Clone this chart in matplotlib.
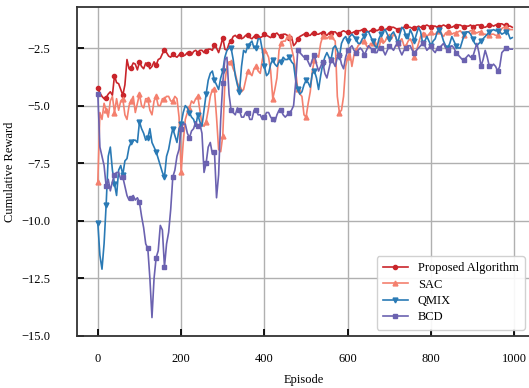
import numpy as np
import matplotlib
matplotlib.use('Agg')
import matplotlib.pyplot as plt

plt.rcParams['font.family'] = ['Liberation Serif', 'DejaVu Serif']
plt.rcParams['font.size'] = 9

episodes = np.arange(0, 1000, 5)

proposed = [-4.25, -4.45, -4.6, -4.7, -4.65, -4.5, -4.4, -4.55, -3.7, -4.0,
            -4.05, -4.3, -4.55, -4.1, -3.0, -3.4, -3.35, -3.15, -3.2, -3.45,
            -3.1, -3.3, -3.4, -3.15, -3.2, -3.4, -3.3, -3.1, -3.25, -3.0,
            -2.95, -2.75, -2.6, -2.7, -2.85, -2.9, -2.75, -2.85, -2.9, -2.8,
            -2.75, -2.85, -2.8, -2.7, -2.7, -2.8, -2.65, -2.6, -2.7, -2.6,
            -2.6, -2.7, -2.65, -2.55, -2.55, -2.6, -2.35, -2.5, -2.7, -2.4,
            -2.05, -2.55, -2.6, -2.3, -2.2, -2.0, -1.95, -2.05, -2.0, -2.1,
            -2.05, -1.95, -1.95, -2.05, -2.1, -2.0, -2.0, -1.95, -2.05, -2.0,
            -1.9, -1.95, -2.0, -2.05, -1.95, -1.9, -1.85, -1.95, -2.0, -1.9,
            -1.9, -1.95, -2.05, -2.0, -2.4, -2.3, -2.1, -2.0, -1.95, -1.9,
            -1.9, -1.95, -1.95, -1.85, -1.85, -1.9, -1.9, -1.85, -1.85, -1.9,
            -1.95, -1.85, -1.85, -1.8, -1.8, -1.9, -1.9, -1.8, -1.75, -1.8,
            -1.8, -1.85, -1.85, -1.8, -1.8, -1.75, -1.75, -1.7, -1.7, -1.75,
            -1.8, -1.75, -1.7, -1.7, -1.75, -1.7, -1.65, -1.7, -1.7, -1.65,
            -1.65, -1.6, -1.6, -1.65, -1.7, -1.65, -1.65, -1.6, -1.55, -1.6,
            -1.6, -1.65, -1.65, -1.6, -1.55, -1.6, -1.6, -1.55, -1.5, -1.55,
            -1.6, -1.55, -1.55, -1.6, -1.6, -1.55, -1.5, -1.55, -1.55, -1.6,
            -1.6, -1.55, -1.55, -1.5, -1.5, -1.55, -1.6, -1.55, -1.55, -1.5,
            -1.6, -1.55, -1.5, -1.5, -1.55, -1.6, -1.6, -1.55, -1.5, -1.5,
            -1.55, -1.5, -1.5, -1.45, -1.45, -1.5, -1.5, -1.55, -1.55, -1.6]

sac = [-8.3, -5.3, -5.6, -4.9, -5.2, -5.5, -4.8, -4.6, -5.3, -4.7,
       -5.2, -4.8, -4.7, -5.4, -5.6, -5.0, -4.8, -4.6, -5.3, -4.9,
       -4.5, -5.0, -5.1, -4.7, -4.7, -5.2, -5.4, -4.8, -4.6, -5.0,
       -5.0, -4.7, -4.7, -4.6, -4.6, -4.8, -4.8, -4.6, -4.7, -5.5,
       -7.9, -6.6, -5.6, -5.3, -5.1, -4.8, -4.9, -4.7, -4.6, -5.2,
       -5.8, -5.9, -5.7, -5.2, -4.6, -4.3, -4.3, -5.5, -6.9, -7.0,
       -6.3, -4.0, -3.3, -3.1, -3.1, -3.4, -3.6, -4.0, -4.2, -4.4,
       -4.3, -3.9, -3.5, -3.6, -3.7, -3.4, -3.3, -3.5, -3.6, -3.0,
       -2.6, -2.7, -2.9, -3.5, -4.7, -4.3, -3.8, -2.6, -2.3, -2.2,
       -2.2, -2.0, -2.0, -2.5, -2.9, -3.5, -4.3, -4.5, -4.6, -5.4,
       -5.5, -4.9, -4.4, -3.5, -3.0, -2.8, -2.9, -2.3, -2.0, -1.95,
       -2.1, -2.0, -2.0, -2.1, -2.2, -4.6, -5.3, -5.2, -4.6, -3.3,
       -2.9, -2.7, -3.3, -2.8, -2.6, -2.4, -2.3, -2.2, -2.2, -2.4,
       -2.5, -2.3, -2.3, -2.2, -2.4, -2.5, -2.1, -2.3, -2.2, -2.0,
       -2.0, -2.1, -1.9, -2.0, -2.3, -2.2, -2.1, -2.4, -2.4, -2.2,
       -2.1, -2.3, -2.9, -2.6, -2.3, -2.0, -1.9, -1.85, -2.0, -1.9,
       -1.8, -1.9, -1.9, -1.8, -1.75, -1.9, -2.0, -1.85, -1.8, -1.75,
       -1.9, -1.85, -1.85, -1.8, -1.75, -1.85, -1.95, -1.8, -1.8, -1.75,
       -1.75, -1.8, -1.85, -1.8, -1.8, -1.9, -1.9, -1.95, -1.95, -1.9,
       -1.9, -1.95, -1.95, -1.8, -1.65, -1.6, -1.6, -1.65, -1.7, -1.7]

qmix = [-10.1, -11.5, -12.1, -11.0, -9.3, -7.2, -6.8, -7.8, -8.4, -8.9,
        -7.8, -7.6, -8.0, -7.4, -7.3, -6.8, -6.6, -6.5, -6.5, -6.6,
        -5.7, -6.0, -6.2, -6.5, -6.4, -6.0, -6.6, -6.8, -7.0, -7.3,
        -7.6, -7.9, -8.1, -7.2, -6.9, -6.4, -6.0, -6.3, -6.6, -6.0,
        -5.8, -5.3, -5.0, -5.1, -5.3, -5.5, -5.6, -5.9, -5.4, -5.7,
        -5.9, -5.2, -4.5, -3.9, -3.6, -3.5, -3.9, -4.1, -4.3, -3.8,
        -3.5, -2.9, -2.6, -2.5, -2.5, -3.0, -3.7, -4.1, -4.4, -3.3,
        -2.6, -2.7, -2.4, -2.3, -2.2, -2.5, -2.5, -2.1, -2.1, -2.6,
        -3.3, -3.7, -3.6, -3.2, -3.0, -3.2, -3.3, -3.1, -3.1, -2.9,
        -3.0, -3.0, -2.9, -3.1, -3.2, -3.9, -4.3, -4.5, -4.4, -4.1,
        -3.9, -4.0, -4.2, -3.6, -3.5, -3.8, -4.3, -3.7, -3.2, -2.9,
        -2.7, -2.9, -3.0, -2.5, -2.4, -2.6, -2.9, -2.3, -2.1, -2.0,
        -2.2, -2.0, -1.9, -2.0, -2.1, -2.3, -2.3, -2.1, -2.0, -1.8,
        -1.8, -2.0, -2.2, -2.4, -2.5, -2.1, -1.9, -1.8, -1.7, -1.9,
        -2.1, -1.9, -1.8, -2.0, -2.3, -1.9, -1.6, -1.7, -2.0, -2.1,
        -1.7, -1.9, -2.2, -1.9, -1.6, -1.8, -2.3, -2.2, -2.0, -2.2,
        -2.4, -2.2, -2.1, -1.8, -1.7, -1.9, -2.2, -2.4, -2.5, -2.3,
        -2.0, -2.2, -2.4, -2.5, -2.5, -2.2, -1.9, -1.8, -1.8, -1.9,
        -2.1, -2.3, -2.4, -2.3, -2.2, -2.1, -2.0, -1.9, -1.8, -1.75,
        -1.7, -1.75, -1.75, -1.8, -1.9, -1.85, -1.8, -1.85, -2.1, -2.05]

bcd = [-4.5, -6.8, -7.2, -7.6, -8.5, -8.2, -8.7, -8.3, -8.0, -7.9,
       -7.9, -8.2, -8.1, -8.5, -8.9, -9.1, -9.0, -8.9, -9.1, -9.0,
       -9.2, -9.8, -10.3, -11.0, -11.2, -12.5, -14.2, -12.5, -11.6, -11.3,
       -10.2, -10.4, -12.0, -11.0, -10.5, -9.5, -8.1, -7.8, -7.2, -6.9,
       -6.0, -5.8, -5.8, -6.2, -6.4, -6.1, -6.0, -5.7, -5.9, -5.8,
       -6.2, -7.9, -7.5, -6.8, -6.6, -7.1, -7.0, -9.0, -8.0, -5.6,
       -4.0, -3.0, -2.9, -4.5, -5.2, -5.3, -5.4, -5.1, -5.2, -5.5,
       -5.5, -5.3, -5.3, -5.6, -5.6, -5.2, -5.2, -5.4, -5.4, -5.6,
       -5.5, -5.3, -5.3, -5.5, -5.6, -5.7, -5.4, -5.2, -5.2, -5.4,
       -5.5, -5.4, -5.3, -5.2, -5.0, -4.0, -2.6, -2.7, -2.8, -2.9,
       -2.9, -3.1, -3.3, -3.0, -2.8, -3.2, -3.5, -3.3, -3.1, -3.6,
       -3.8, -3.4, -3.0, -3.1, -3.3, -2.9, -2.8, -3.2, -3.4, -2.9,
       -2.6, -2.5, -2.4, -2.6, -2.7, -2.6, -2.5, -2.6, -2.8, -2.6,
       -2.4, -2.5, -2.6, -2.7, -2.7, -2.5, -2.5, -2.6, -2.8, -2.6,
       -2.4, -2.5, -2.6, -2.4, -2.3, -2.6, -2.8, -2.6, -2.5, -2.4,
       -2.4, -2.6, -2.7, -2.6, -2.5, -2.4, -2.3, -2.4, -2.6, -2.5,
       -2.4, -2.6, -2.7, -2.5, -2.5, -2.4, -2.3, -2.5, -2.6, -2.5,
       -2.4, -2.5, -2.7, -2.8, -2.9, -3.0, -3.0, -2.9, -2.8, -2.9,
       -2.9, -2.6, -2.3, -2.7, -3.3, -3.0, -2.6, -2.9, -3.3, -3.3,
       -3.2, -3.3, -3.5, -3.3, -2.7, -2.6, -2.5, -2.5, -2.55, -2.55]

fig = plt.figure(figsize=(5.29, 3.88), dpi=100)
ax = fig.add_axes([77/529, 52/388, 454/529, 329/388])

ax.plot(episodes, proposed, color='#c9252b', marker='o', markersize=3, markevery=4, lw=1.2, label='Proposed Algorithm')
ax.plot(episodes, sac, color='#f4806e', marker='^', markersize=3.5, markevery=4, lw=1.2, label='SAC')
ax.plot(episodes, qmix, color='#2a7ab5', marker='v', markersize=3.5, markevery=4, lw=1.2, label='QMIX')
ax.plot(episodes, bcd, color='#6b62b0', marker='s', markersize=3, markevery=4, lw=1.2, label='BCD')

ax.set_xlim(-50, 1040)
ax.set_ylim(-15, -0.72)
ax.set_xticks([0, 200, 400, 600, 800, 1000])
ax.set_yticks([-15, -12.5, -10, -7.5, -5, -2.5])
ax.grid(True, color='#b0b0b0', lw=1)
ax.tick_params(direction='in', length=5, width=1.3, top=False, right=False)
ax.tick_params(axis='x', pad=12)
ax.tick_params(axis='y', pad=19)
for s in ax.spines.values():
    s.set_linewidth(1.3)
    s.set_color('#333333')

ax.set_xlabel('Episode', labelpad=7)
ax.set_ylabel('Cumulative Reward', labelpad=4)
ax.legend(loc='lower right', fontsize=9, framealpha=0.9, edgecolor='#cccccc',
          handlelength=2.0, borderpad=0.5, labelspacing=0.35)

fig.savefig('out.png', dpi=100)
